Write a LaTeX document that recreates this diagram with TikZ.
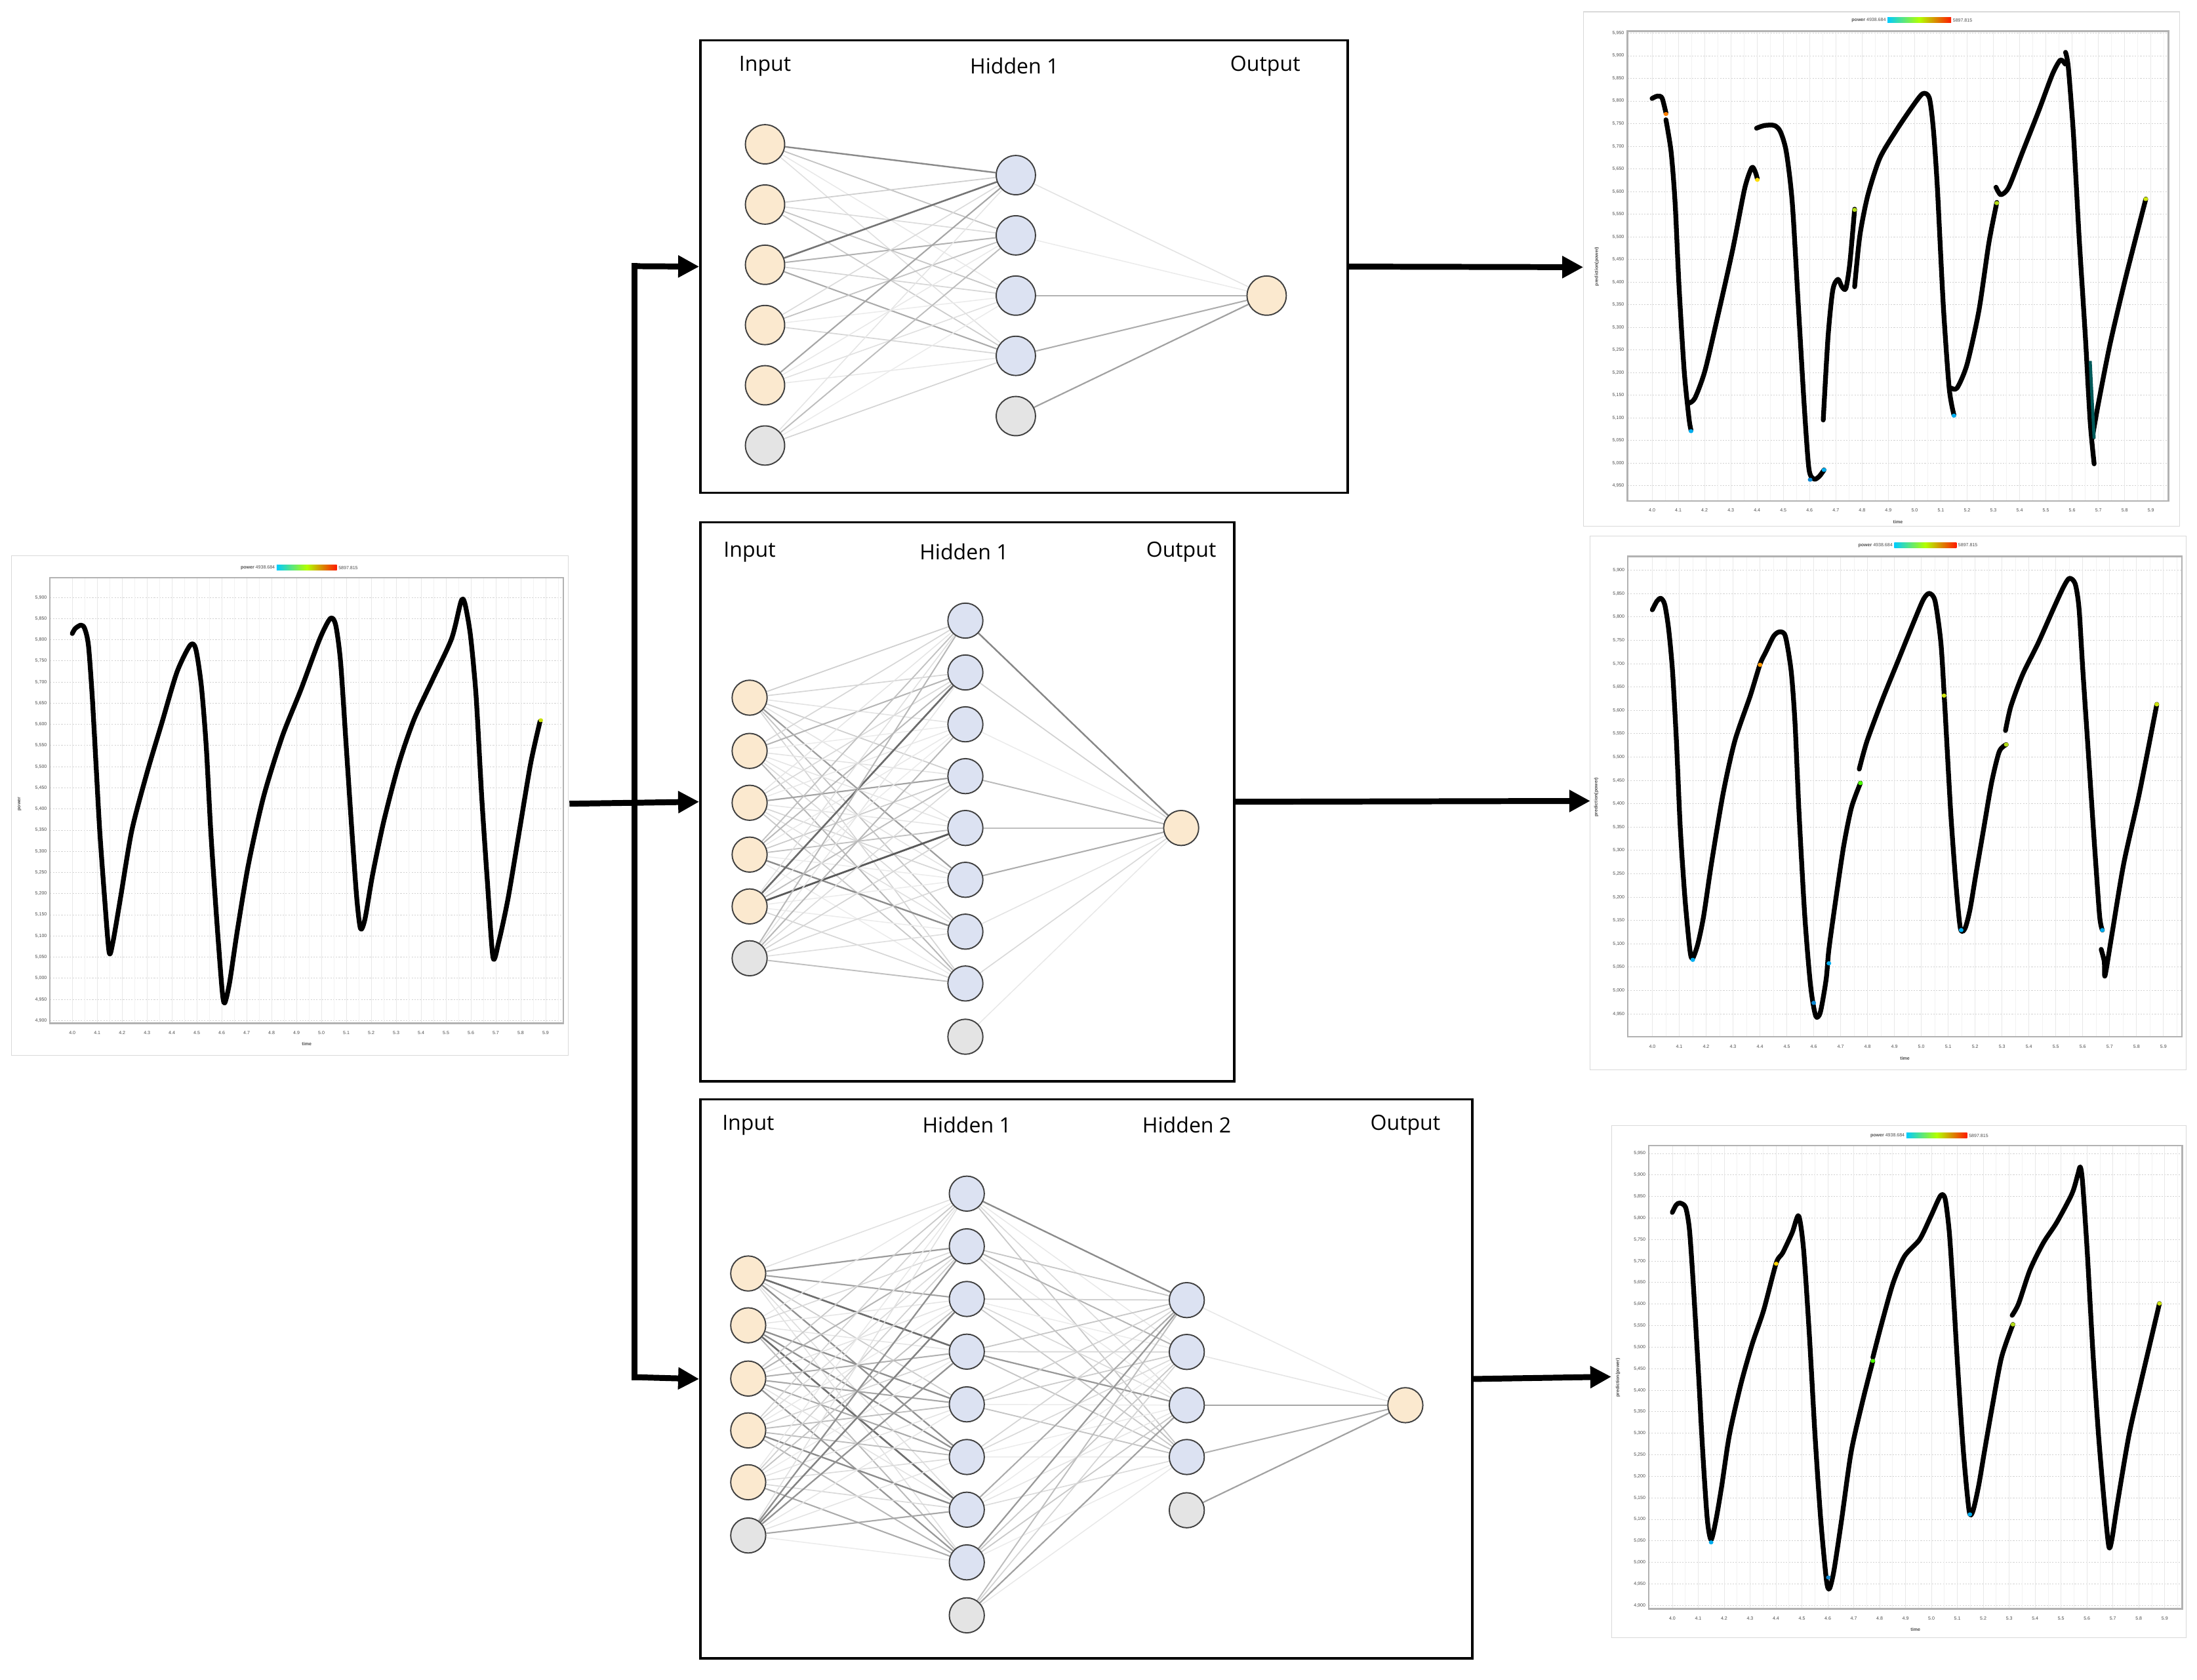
\documentclass[tikz,border=0pt]{standalone}
\usepackage{fontspec}
\setmainfont{Open Sans}
\newfontfamily\chf{Liberation Sans}
\usetikzlibrary{arrows.meta}
\pgfdeclarelayer{bg}
\pgfsetlayers{bg,main}
\definecolor{inpc}{HTML}{FBE9CF}
\definecolor{hidc}{HTML}{DCE2F2}
\definecolor{biac}{HTML}{E4E4E4}
\tikzset{
  nd/.style={circle, draw=black!75, line width=0.9pt, inner sep=0pt, minimum size=#1},
  inp/.style={nd=28pt, fill=inpc},
  hid/.style={nd=28pt, fill=hidc},
  bia/.style={nd=28pt, fill=biac},
  inps/.style={nd=25pt, fill=inpc},
  hids/.style={nd=25pt, fill=hidc},
  bias/.style={nd=25pt, fill=biac},
  box/.style={draw=black, line width=1.6pt, inner sep=0pt, anchor=north west},
  lbl/.style={font=\fontsize{15}{17}\selectfont, text=black},
  flow/.style={line width=4.2pt, black},
  arr/.style={flow, -{Triangle[length=15pt,width=15pt]}},
  chartnode/.style={inner sep=0pt, anchor=north west},
  chtxt/.style={font=\chf\fontsize{3.3}{4}\selectfont, text=black!70, inner sep=0.5pt},
  curve/.style={line width=3.4pt, black, line cap=round, line join=round},
}
\newcommand\edges[2]{%
  \foreach \s in {#1}{\foreach \d in {#2}{%
    \pgfmathsetmacro\g{int(8+62*rnd*rnd)}%
    \pgfmathsetmacro\w{0.6+0.8*\g/70}%
    \draw[draw=black!\g, line width=\w pt] (\s) -- (\d);}}}
\newcommand\chartframe[6]{%
  \draw[gray!30, line width=0.5pt] (#1,#2) rectangle (#3,#4);
  \shade[left color=cyan!80!blue, right color=red!80!orange, middle color=yellow!70!green] (#5-80,#6-8) rectangle (#5+80,#6+8);
  \node[chtxt, anchor=east] at (#5-82,#6) {\textbf{power} 4938.684};
  \node[chtxt, anchor=west] at (#5+82,#6) {5897.815};}
\newcommand\chartplot[8]{%
  \foreach \k in {0,...,19}{%
    \draw[gray!18, line width=0.4pt] ({#5+\k*#6},#2) -- ({#5+\k*#6},#4);
    \draw[gray!10, line width=0.4pt] ({#5+(\k+0.5)*#6},#2) -- ({#5+(\k+0.5)*#6},#4);
    \pgfmathtruncatemacro\xi{40+\k}\pgfmathtruncatemacro\xa{\xi/10}\pgfmathtruncatemacro\xb{\xi-10*\xa}%
    \node[chtxt] at ({#5+\k*#6},#4+28) {\xa.\xb};}
  \node[chtxt, font=\chf\bfseries\fontsize{3.3}{4}\selectfont] at ({(#1+#3)/2},#4+62) {time};
  \draw[gray!60, line width=1.1pt] (#1,#2) rectangle (#3,#4);}
\newcommand\chartylab[6]{%
  \foreach \k in {0,...,#6}{%
    \pgfmathtruncatemacro\v{#5-50*\k}\pgfmathtruncatemacro\th{\v/1000}\pgfmathtruncatemacro\re{\v-1000*\th}%
    \draw[gray!35, dash pattern=on 1pt off 1pt, line width=0.4pt] (#1,{#3+\k*#4}) -- (#2,{#3+\k*#4});
    \node[chtxt, anchor=east] at (#1-6,{#3+\k*#4}) {\th,\ifnum\re<100 0\fi\ifnum\re<10 0\fi\re};}}
\begin{document}
\begin{tikzpicture}[x=1pt,y=-1pt]
\pgfmathsetseed{11}
\useasboundingbox (0,0) rectangle (1568,1199);
\begin{pgfonlayer}{bg}
\fill[white] (0,0) rectangle (1568,1199);
\end{pgfonlayer}

% ---------- chart nodes ----------
\node[chartnode, minimum width=398pt, minimum height=353pt] (lc) at (8,397) {};
\node[chartnode, minimum width=427pt, minimum height=365pt] (rc1) at (1130,8) {};
\node[chartnode, minimum width=425pt, minimum height=377pt] (rc2) at (1135,383) {};
\node[chartnode, minimum width=415pt, minimum height=365pt] (rc3) at (1150,800) {};

% ---------- left chart ----------
\begin{scope}[shift={(0,388.4)}, xscale=0.2686, yscale=0.2408]
\chartframe{30}{35}{1510}{1515}{815}{70}
\chartylab{133}{1497}{158}{62.7}{5900}{20}
\chartplot{133}{100}{1497}{1420}{192}{66.2}{158}{62.7}
\node[chtxt, rotate=90, font=\chf\bfseries\fontsize{3.3}{4}\selectfont] at (52,770) {power};
\draw[curve] plot[smooth, tension=0.45] coordinates {(192,265)(200,250)(215,240)(225,250)(235,300)(245,450)(255,650)(265,850)(278,1050)(290,1210)(300,1180)(320,1050)(350,850)(390,680)(430,530)(470,380)(505,300)(520,310)(535,420)(548,600)(560,850)(575,1100)(590,1320)(597,1360)(610,1300)(630,1150)(660,950)(700,750)(750,570)(800,430)(850,280)(878,220)(892,240)(905,350)(920,600)(935,850)(948,1050)(958,1140)(970,1110)(990,980)(1020,820)(1060,650)(1100,520)(1150,400)(1200,280)(1225,170)(1235,175)(1250,270)(1265,450)(1280,750)(1295,1000)(1310,1225)(1325,1180)(1350,1050)(1380,850)(1410,650)(1435,525)};
\fill[yellow!80!green] (1437,522) circle (6);
\end{scope}

% ---------- top right chart ----------
\begin{scope}[shift={(1123.2,0)}, xscale=0.2835, yscale=0.2408]
\chartframe{25}{35}{1525}{1560}{870}{60}
\chartylab{135}{1497}{98}{67.1}{5950}{20}
\chartplot{135}{92}{1497}{1485}{197}{66.1}{98}{67.1}
\node[chtxt, rotate=90, font=\chf\bfseries\fontsize{3.3}{4}\selectfont] at (58,790) {prediction(power)};
\draw[curve] plot[smooth, tension=0.45] coordinates {(197,292)(210,285)(222,290)(232,335)};
\draw[curve] plot[smooth, tension=0.45] coordinates {(232,355)(245,450)(255,600)(265,850)(278,1100)(290,1240)(295,1275)};
\draw[curve] plot[smooth, tension=0.45] coordinates {(290,1195)(305,1180)(330,1100)(360,950)(400,740)(430,560)(448,497)(457,510)(462,530)};
\draw[curve] plot[smooth, tension=0.45] coordinates {(460,380)(480,372)(505,372)(520,390)(535,450)(550,600)(565,900)(580,1200)(592,1390)(605,1420)(618,1412)(630,1393)};
\draw[curve] plot[smooth, tension=0.45] coordinates {(628,1245)(640,1000)(652,860)(665,828)(675,850)(685,855)(695,780)(707,620)};
\draw[curve] plot[smooth, tension=0.45] coordinates {(707,850)(720,700)(740,580)(770,470)(810,390)(850,320)(878,278)(895,290)(905,380)(915,550)(930,900)(945,1150)(957,1230)};
\draw[curve] plot[smooth, tension=0.45] coordinates {(950,1150)(965,1150)(990,1080)(1020,920)(1045,720)(1065,600)};
\draw[curve] plot[smooth, tension=0.45] coordinates {(1063,555)(1075,577)(1095,555)(1130,450)(1170,330)(1205,220)(1225,178)(1237,190)};
\draw[curve] plot[smooth, tension=0.45] coordinates {(1238,155)(1245,200)(1258,400)(1272,700)(1288,1000)(1300,1250)(1310,1375)};
\draw[curve] plot[smooth, tension=0.45] coordinates {(1305,1300)(1320,1200)(1350,1020)(1390,820)(1440,590)};
\draw[teal!70!black, line width=2.2pt] (1300,1070) -- (1310,1300);
\fill[orange] (232,338) circle (6); \fill[yellow!80!orange] (462,533) circle (6);
\fill[cyan] (295,1278) circle (6); \fill[cyan!70!blue] (595,1422) circle (6); \fill[cyan] (630,1393) circle (6);
\fill[yellow!70!green] (707,622) circle (6); \fill[cyan] (957,1232) circle (6); \fill[yellow!70!green] (1065,602) circle (6); \fill[yellow!80!green] (1440,590) circle (6);
\end{scope}

% ---------- middle right chart ----------
\begin{scope}[shift={(1132.6,379.1)}, xscale=0.2776, yscale=0.2498]
\chartframe{8}{15}{1540}{1540}{870}{40}
\chartylab{105}{1530}{112}{66.7}{5900}{19}
\chartplot{105}{72}{1530}{1445}{168}{69.16}{112}{66.7}
\node[chtxt, rotate=90, font=\chf\bfseries\fontsize{3.3}{4}\selectfont] at (24,760) {prediction(power)};
\draw[curve] plot[smooth, tension=0.45] coordinates {(168,225)(180,200)(190,192)(200,210)(210,280)(220,400)(230,600)(240,850)(252,1050)(265,1200)(272,1220)(285,1180)(300,1100)(320,950)(350,750)(380,600)(420,470)(445,380)(460,345)(480,300)(495,288)(510,300)(525,400)(535,550)(545,800)(560,1100)(575,1300)(588,1385)(600,1375)(615,1280)(622,1195)(640,1050)(660,900)(680,790)(703,720)};
\draw[curve] plot[smooth, tension=0.45] coordinates {(700,680)(720,600)(760,480)(800,370)(840,260)(865,195)(880,178)(895,200)(910,320)(920,500)(935,800)(948,1000)(960,1135)(972,1135)(985,1080)(1000,980)(1020,850)(1040,720)(1060,630)(1078,610)};
\draw[curve] plot[smooth, tension=0.45] coordinates {(1076,570)(1090,500)(1120,410)(1160,320)(1200,220)(1225,160)(1240,135)(1255,150)(1265,220)(1275,400)(1290,650)(1305,900)(1318,1100)(1325,1140)};
\draw[curve] plot[smooth, tension=0.45] coordinates {(1322,1195)(1330,1230)(1332,1270)(1350,1150)(1380,950)(1420,750)(1465,495)};
\fill[cyan] (272,1225) circle (6); \fill[orange!80!yellow] (445,382) circle (6); \fill[cyan!70!blue] (583,1348) circle (6);
\fill[cyan] (622,1235) circle (6); \fill[green!70!yellow] (703,720) circle (6); \fill[yellow!80!green] (918,470) circle (6);
\fill[cyan] (962,1140) circle (6); \fill[yellow!70!green] (1078,610) circle (6); \fill[cyan] (1325,1140) circle (6); \fill[yellow!80!green] (1465,495) circle (6);
\end{scope}

% ---------- bottom right chart ----------
\begin{scope}[shift={(1141.9,795.6)}, xscale=0.2716, yscale=0.2408]
\chartframe{30}{32}{1540}{1550}{885}{62}
\chartylab{128}{1530}{115}{63.8}{5950}{21}
\chartplot{128}{92}{1530}{1465}{190}{68.1}{115}{63.8}
\node[chtxt, rotate=90, font=\chf\bfseries\fontsize{3.3}{4}\selectfont] at (47,780) {prediction(power)};
\draw[curve] plot[smooth, tension=0.45] coordinates {(190,290)(200,268)(210,262)(225,275)(235,340)(245,500)(258,750)(270,1000)(282,1200)(292,1260)(305,1200)(320,1100)(340,950)(370,800)(400,680)(430,580)(463,440)(480,410)(505,350)(522,300)(535,400)(550,650)(565,950)(580,1200)(595,1380)(603,1405)(615,1350)(635,1200)(660,1000)(690,850)(717,730)};
\draw[curve] plot[smooth, tension=0.45] coordinates {(717,720)(740,620)(770,500)(800,420)(840,370)(870,300)(895,240)(907,250)(918,350)(928,520)(940,750)(955,1000)(970,1175)(980,1175)(995,1100)(1010,1000)(1030,870)(1055,720)(1085,622)};
\draw[curve] plot[smooth, tension=0.45] coordinates {(1083,595)(1100,560)(1130,460)(1165,380)(1200,320)(1240,235)(1255,180)(1262,155)(1268,200)(1280,400)(1295,700)(1310,950)(1325,1150)(1337,1280)(1345,1260)(1360,1150)(1390,950)(1420,800)(1445,680)(1470,560)};
\fill[cyan] (292,1268) circle (6); \fill[yellow!70!orange] (463,442) circle (6); \fill[cyan!70!blue] (600,1372) circle (6);
\fill[green!70!yellow] (717,730) circle (6); \fill[cyan] (972,1185) circle (6); \fill[yellow!70!green] (1085,622) circle (6); \fill[yellow!80!green] (1470,560) circle (6);
\end{scope}

% ---------- network boxes ----------
\node[box, minimum width=462pt, minimum height=323pt] (box1) at (499,28) {};
\node[box, minimum width=381pt, minimum height=399pt] (box2) at (499,372) {};
\node[box, minimum width=551pt, minimum height=399pt] (box3) at (499,784) {};

% network 1
\node[lbl] (a-t1) at (546,47) {Input};
\node[lbl] (a-t2) at (724,47) {Hidden 1};
\node[lbl] (a-t3) at (903,47) {Output};
\foreach \i/\y in {1/103,2/146,3/189,4/232,5/275} \node[inp] (a-i\i) at (546,\y) {};
\node[bia] (a-i6) at (546,318) {};
\foreach \i/\y in {1/125,2/168,3/211,4/254} \node[hid] (a-h\i) at (725,\y) {};
\node[bia] (a-h5) at (725,297) {};
\node[inp] (a-o) at (904,211) {};
\begin{pgfonlayer}{bg}
\edges{a-i1,a-i2,a-i3,a-i4,a-i5,a-i6}{a-h1,a-h2,a-h3,a-h4}
\edges{a-h1,a-h2,a-h3,a-h4,a-h5}{a-o}
\end{pgfonlayer}

% network 2
\node[lbl] (b-t1) at (535,394) {Input};
\node[lbl] (b-t2) at (688,394) {Hidden 1};
\node[lbl] (b-t3) at (843,394) {Output};
\foreach \i/\y in {1/498,2/536,3/573,4/610,5/647} \node[inps] (b-i\i) at (535,\y) {};
\node[bias] (b-i6) at (535,684) {};
\foreach \i in {1,...,8} \node[hids] (b-h\i) at (689,{443+37*(\i-1)}) {};
\node[bias] (b-h9) at (689,740) {};
\node[inps] (b-o) at (843,591) {};
\begin{pgfonlayer}{bg}
\edges{b-i1,b-i2,b-i3,b-i4,b-i5,b-i6}{b-h1,b-h2,b-h3,b-h4,b-h5,b-h6,b-h7,b-h8}
\edges{b-h1,b-h2,b-h3,b-h4,b-h5,b-h6,b-h7,b-h8,b-h9}{b-o}
\end{pgfonlayer}

% network 3
\node[lbl] (c-t1) at (534,803) {Input};
\node[lbl] (c-t2) at (690,803) {Hidden 1};
\node[lbl] (c-t3) at (847,803) {Hidden 2};
\node[lbl] (c-t4) at (1003,803) {Output};
\foreach \i/\y in {1/909,2/946,3/984,4/1021,5/1058} \node[inps] (c-i\i) at (534,\y) {};
\node[bias] (c-i6) at (534,1096) {};
\foreach \i in {1,...,8} \node[hids] (c-h\i) at (690,{852+37.6*(\i-1)}) {};
\node[bias] (c-h9) at (690,1153) {};
\foreach \i/\y in {1/928,2/965,3/1003,4/1040} \node[hids] (c-g\i) at (847,\y) {};
\node[bias] (c-g5) at (847,1078) {};
\node[inps] (c-o) at (1003,1003) {};
\begin{pgfonlayer}{bg}
\edges{c-i1,c-i2,c-i3,c-i4,c-i5,c-i6}{c-h1,c-h2,c-h3,c-h4,c-h5,c-h6,c-h7,c-h8}
\edges{c-h1,c-h2,c-h3,c-h4,c-h5,c-h6,c-h7,c-h8,c-h9}{c-g1,c-g2,c-g3,c-g4}
\edges{c-g1,c-g2,c-g3,c-g4,c-g5}{c-o}
\end{pgfonlayer}

% ---------- flow arrows ----------
\coordinate (j1) at (453,190);
\coordinate (j2) at (453,573);
\coordinate (j3) at (453,983);
\draw[flow] (lc.east) -- (j2);
\draw[flow, line cap=rect] (j1) -- (j3);
\draw[arr] (j1) -- (box1.west);
\draw[arr] (j2) -- (box2.west);
\draw[arr] (j3) -- (box3.west);
\draw[arr] (box1.east) -- (rc1.west);
\draw[arr] (box2.east) -- (rc2.west);
\draw[arr] (box3.east) -- (rc3.west);
\end{tikzpicture}
\end{document}
